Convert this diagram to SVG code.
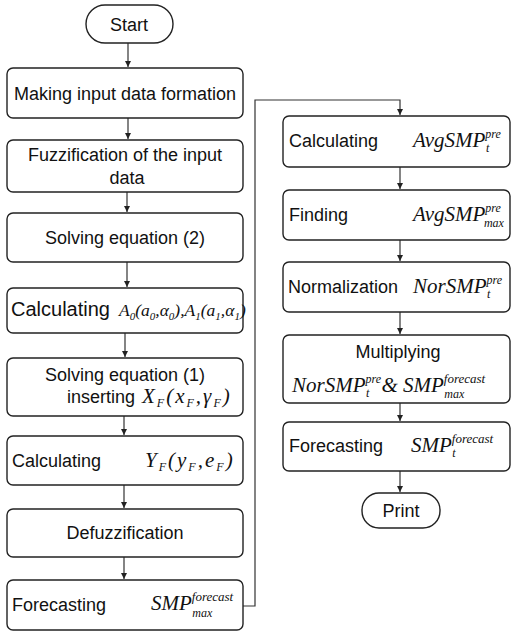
<svg xmlns="http://www.w3.org/2000/svg" width="512" height="632" viewBox="0 0 512 632">
<style>
.box{fill:#fff;stroke:#222;stroke-width:1.4}
.t{font-family:"Liberation Sans",Arial,sans-serif;font-size:18px;fill:#111}
.m{font-family:"Liberation Serif","Times New Roman",serif;font-style:italic;font-size:21px;fill:#111}
.s{font-size:12px}
.f{font-size:13px}
.c{fill:none;stroke:#333;stroke-width:1.2}
</style>
<defs>
<marker id="ah" markerWidth="7" markerHeight="7" refX="6" refY="3.5" orient="auto" markerUnits="userSpaceOnUse">
<path d="M0,0.5 L6,3.5 L0,6.5 Z" fill="#222"/>
</marker>
</defs>
<rect width="512" height="632" fill="#fff"/>
<g id="connectors">
<line class="c" x1="128" y1="43" x2="128" y2="67" marker-end="url(#ah)"/>
<line class="c" x1="128" y1="118" x2="128" y2="139" marker-end="url(#ah)"/>
<line class="c" x1="127" y1="192" x2="127" y2="212" marker-end="url(#ah)"/>
<line class="c" x1="127" y1="262" x2="127" y2="287" marker-end="url(#ah)"/>
<line class="c" x1="125" y1="333" x2="125" y2="357" marker-end="url(#ah)"/>
<line class="c" x1="124" y1="416" x2="124" y2="435" marker-end="url(#ah)"/>
<line class="c" x1="124" y1="485" x2="124" y2="508" marker-end="url(#ah)"/>
<line class="c" x1="124" y1="557" x2="124" y2="579" marker-end="url(#ah)"/>
<polyline class="c" points="243,606 255,606 255,100 400,100 400,115" marker-end="url(#ah)"/>
<line class="c" x1="400" y1="167" x2="400" y2="189" marker-end="url(#ah)"/>
<line class="c" x1="400" y1="240" x2="400" y2="261" marker-end="url(#ah)"/>
<line class="c" x1="400" y1="312" x2="400" y2="334" marker-end="url(#ah)"/>
<line class="c" x1="400" y1="403" x2="400" y2="421" marker-end="url(#ah)"/>
<line class="c" x1="400" y1="471" x2="400" y2="492" marker-end="url(#ah)"/>
</g>
<g id="start">
<rect class="box" x="86" y="5" width="87" height="38" rx="19"/>
<text class="t" x="129" y="31" text-anchor="middle">Start</text>
</g>
<g id="n1">
<rect class="box" x="7" y="68" width="236" height="50" rx="6"/>
<text class="t" x="125" y="100" text-anchor="middle">Making input data formation</text>
</g>
<g id="n2">
<rect class="box" x="7" y="140" width="236" height="52" rx="6"/>
<text class="t" x="125" y="161" text-anchor="middle">Fuzzification of the input</text>
<text class="t" x="127" y="184" text-anchor="middle">data</text>
</g>
<g id="n3">
<rect class="box" x="7" y="213" width="236" height="49" rx="6"/>
<text class="t" x="125" y="244" text-anchor="middle">Solving equation (2)</text>
</g>
<g id="n4">
<rect class="box" x="7" y="288" width="236" height="45" rx="6"/>
<text class="t" x="11" y="316" style="font-size:20px">Calculating</text>
<text class="m" x="119" y="316" style="font-size:17.5px">A<tspan style="font-size:11px" dy="4">0</tspan><tspan dy="-4">(a</tspan><tspan style="font-size:11px" dy="4">0</tspan><tspan dy="-4">,α</tspan><tspan style="font-size:11px" dy="4">0</tspan><tspan dy="-4">),A</tspan><tspan style="font-size:11px" dy="4">1</tspan><tspan dy="-4">(a</tspan><tspan style="font-size:11px" dy="4">1</tspan><tspan dy="-4">,α</tspan><tspan style="font-size:11px" dy="4">1</tspan><tspan dy="-4">)</tspan></text>
</g>
<g id="n5">
<rect class="box" x="7" y="358" width="236" height="58" rx="6"/>
<text class="t" x="125" y="381" text-anchor="middle">Solving equation (1)</text>
<text class="t" x="67" y="403">inserting</text>
<text class="m" x="142" y="403" letter-spacing="2">X<tspan class="s" dy="4">F</tspan><tspan dy="-4">(x</tspan><tspan class="s" dy="4">F</tspan><tspan dy="-4">,γ</tspan><tspan class="s" dy="4">F</tspan><tspan dy="-4">)</tspan></text>
</g>
<g id="n6">
<rect class="box" x="7" y="436" width="236" height="49" rx="6"/>
<text class="t" x="12" y="467">Calculating</text>
<text class="m" x="145" y="467" letter-spacing="2">Y<tspan class="s" dy="4">F</tspan><tspan dy="-4">(y</tspan><tspan class="s" dy="4">F</tspan><tspan dy="-4">,e</tspan><tspan class="s" dy="4">F</tspan><tspan dy="-4">)</tspan></text>
</g>
<g id="n7">
<rect class="box" x="7" y="509" width="236" height="48" rx="6"/>
<text class="t" x="125" y="539" text-anchor="middle">Defuzzification</text>
</g>
<g id="n8">
<rect class="box" x="7" y="580" width="236" height="50" rx="6"/>
<text class="t" x="12" y="611">Forecasting</text>
<text class="m" x="151" y="610">SMP<tspan class="f" dy="-9">forecast</tspan><tspan class="s" dx="-41" dy="16">max</tspan></text>
</g>
<g id="r1">
<rect class="box" x="283" y="116" width="227" height="51" rx="6"/>
<text class="t" x="289" y="147">Calculating</text>
<text class="m" x="413" y="147">AvgSMP<tspan class="s" dy="-9">pre</tspan><tspan class="s" dx="-15" dy="14">t</tspan></text>
</g>
<g id="r2">
<rect class="box" x="283" y="190" width="227" height="50" rx="6"/>
<text class="t" x="289" y="221">Finding</text>
<text class="m" x="413" y="221">AvgSMP<tspan class="s" dy="-9">pre</tspan><tspan class="s" dx="-17" dy="15">max</tspan></text>
</g>
<g id="r3">
<rect class="box" x="283" y="262" width="227" height="50" rx="6"/>
<text class="t" x="288" y="293">Normalization</text>
<text class="m" x="413" y="293">NorSMP<tspan class="s" dy="-9">pre</tspan><tspan class="s" dx="-15" dy="14">t</tspan></text>
</g>
<g id="r4">
<rect class="box" x="283" y="335" width="227" height="68" rx="6"/>
<text class="t" x="398" y="358" text-anchor="middle">Multiplying</text>
<text class="m" x="292" y="392">NorSMP<tspan class="s" dy="-9">pre</tspan><tspan class="s" dx="-15" dy="14">t</tspan><tspan dx="12" dy="-5">&amp; SMP</tspan><tspan class="f" dy="-9">forecast</tspan><tspan class="s" dx="-41" dy="15">max</tspan></text>
</g>
<g id="r5">
<rect class="box" x="283" y="422" width="227" height="49" rx="6"/>
<text class="t" x="289" y="452">Forecasting</text>
<text class="m" x="411" y="452">SMP<tspan class="f" dy="-9">forecast</tspan><tspan class="s" dx="-41" dy="14">t</tspan></text>
</g>
<g id="print">
<rect class="box" x="362" y="493" width="78" height="35" rx="17"/>
<text class="t" x="401" y="517" text-anchor="middle">Print</text>
</g>
</svg>
